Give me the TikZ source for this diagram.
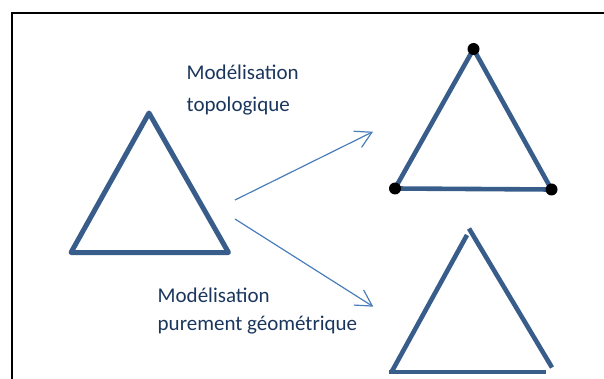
\documentclass[tikz,border=0pt]{standalone}
\usepackage{fontspec}
\setmainfont{Carlito}
\usetikzlibrary{arrows.meta}

\definecolor{trian}{RGB}{56,93,138}
\definecolor{fleche}{RGB}{74,126,187}
\definecolor{texte}{RGB}{26,54,93}

\tikzset{
  trait/.style={draw=trian, line width=4.6pt},
  fl/.style={draw=fleche, line width=1.2pt, -{Straight Barb[length=16pt,width=18pt]}},
  lbl/.style={anchor=base west, align=left, inner sep=0pt, text=texte,
    font=\fontsize{21pt}{28pt}\selectfont},
  pt/.style={circle, fill=black, inner sep=0pt, minimum size=12pt}
}

\begin{document}
\begin{tikzpicture}[x=1pt,y=-1pt]
		\useasboundingbox (0,0) rectangle (604,379);
		\draw[line width=2pt] (12,390) -- (12,13) -- (620,13);
		% triangle de depart
		\draw[trait, line width=5pt, line join=round] (149,113) -- (71,252.5) -- (228.5,252.5) -- cycle;
		% modelisation topologique
		\draw[trait, line join=round] (473.5,49) -- (395,188.5) -- (551.5,189.5) -- cycle;
		\node[pt] (s1) at (473.5,49) {};
		\node[pt] (s2) at (395,188.5) {};
		\node[pt] (s3) at (551.5,189.5) {};
		% modelisation geometrique
		\draw[trait] (391,373) -- (467,235);
		\draw[trait] (469,228.5) -- (552,367.5);
		\draw[trait] (389,372) -- (546,372);
		% fleches
		\coordinate (d1) at (235,200);
		\coordinate (a1) at (373,131.7);
		\coordinate (d2) at (235,219);
		\coordinate (a2) at (373.3,306.7);
		\draw[fl] (d1) -- (a1);
		\draw[fl] (d2) -- (a2);
		\node[lbl] (topo) at (186.5,111.7) {Modélisation\\[3.7pt]topologique};
		\node[lbl] (geom) at (157.5,330.5) {Modélisation\\purement géométrique};
\end{tikzpicture}
\end{document}
